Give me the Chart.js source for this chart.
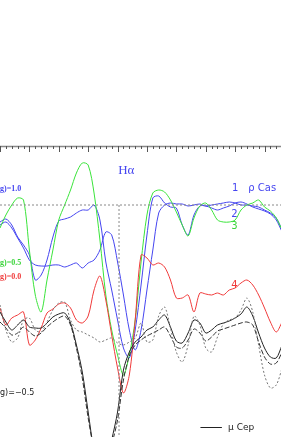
<!DOCTYPE html>
<html>
<head>
<meta charset="utf-8">
<script src="https://cdn.jsdelivr.net/npm/chart.js@4.4.1/dist/chart.umd.min.js"></script>
<style>
  html, body { margin: 0; padding: 0; background: #fff; }
  #wrap { width: 281px; height: 437px; position: relative; }
</style>
</head>
<body>
<div id="wrap"><canvas id="chart"></canvas></div>
<script>
// wavelength grid (arbitrary units, major tick = 1), flux normalised to continuum = 1
var wave = [];
for (var i = 0; i <= 48; i++) wave.push(-4 + i * 0.2);

var blue1 = [0.80, 0.83, 0.77, 0.67, 0.57, 0.45, 0.40, 0.39, 0.39, 0.40, 0.40, 0.38, 0.40, 0.42, 0.37, 0.42,
    0.45, 0.55, 0.73, 0.70, 0.43, 0.10, -0.25, -0.45, -0.25, 0.15, 0.55, 0.92, 1.00, 1.02, 1.01, 1.01,
    0.99, 1.00, 1.01, 0.99, 1.00, 1.01, 1.02, 1.03, 1.02, 1.00, 1.00, 0.99, 0.98, 0.95, 0.92, 0.87, 0.75];
var blue2 = [0.83, 0.86, 0.80, 0.68, 0.60, 0.50, 0.25, 0.30, 0.45, 0.68, 0.84, 0.86, 0.88, 0.92, 0.95, 0.95,
    1.00, 0.85, 0.43, 0.15, -0.15, -0.43, -0.53, -0.25, 0.20, 0.70, 1.07, 1.09, 1.02, 0.98, 0.97, 0.80,
    0.70, 0.90, 0.99, 0.99, 0.97, 0.95, 0.97, 0.99, 1.02, 1.03, 1.01, 0.98, 0.96, 0.94, 0.91, 0.85, 0.73];
var green3 = [0.77, 0.90, 1.00, 1.07, 1.05, 0.55, 0.10, -0.07, 0.25, 0.55, 0.85, 1.00, 1.15, 1.32, 1.42, 1.40,
    1.12, 0.65, 0.10, -0.25, -0.50, -0.70, -0.50, -0.15, 0.43, 0.90, 1.12, 1.15, 1.13, 1.05, 0.93, 0.80,
    0.69, 0.87, 0.99, 1.02, 0.95, 0.85, 0.83, 0.83, 0.85, 0.95, 1.00, 1.02, 1.05, 0.98, 0.94, 0.87, 0.75];
var red4 = [-0.03, -0.20, -0.13, -0.10, -0.07, -0.40, -0.35, -0.23, -0.08, -0.04, 0.01, 0.02, -0.03, -0.15, -0.18, -0.11,
    0.15, 0.29, 0.05, -0.30, -0.63, -0.88, -0.70, -0.15, 0.50, 0.47, 0.40, 0.42, 0.38, 0.25, 0.07, 0.07,
    0.10, -0.07, 0.12, 0.11, 0.10, 0.12, 0.10, 0.15, 0.17, 0.22, 0.25, 0.20, 0.10, -0.03, -0.17, -0.27, -0.17];
var muCep = [-0.07, -0.17, -0.25, -0.20, -0.15, -0.22, -0.23, -0.23, -0.18, -0.12, -0.09, -0.08, -0.18, -0.40, -0.67, -1.07,
    -1.45, -1.60, -1.60, -1.35, -1.07, -0.65, -0.47, -0.37, -0.32, -0.25, -0.22, -0.15, -0.10, -0.22, -0.36, -0.38,
    -0.28, -0.15, -0.18, -0.28, -0.25, -0.20, -0.18, -0.16, -0.13, -0.09, -0.02, -0.11, -0.28, -0.43, -0.52, -0.53, -0.40];
var muCepDash = [-0.17, -0.23, -0.30, -0.28, -0.22, -0.27, -0.31, -0.28, -0.22, -0.17, -0.13, -0.11, -0.20, -0.43, -0.73, -1.13,
    -1.45, -1.65, -1.63, -1.40, -1.15, -0.75, -0.51, -0.40, -0.35, -0.31, -0.28, -0.25, -0.22, -0.31, -0.42, -0.43,
    -0.35, -0.24, -0.28, -0.36, -0.32, -0.26, -0.24, -0.22, -0.20, -0.18, -0.17, -0.20, -0.37, -0.52, -0.59, -0.58, -0.47];
var muCepDot = [0.00, -0.25, -0.37, -0.33, -0.15, -0.13, -0.25, -0.27, -0.17, -0.05, 0.02, 0.03, -0.15, -0.25, -0.27, -0.30,
    -0.33, -0.37, -0.35, -0.33, -0.38, -0.40, -0.37, -0.33, -0.18, -0.37, -0.35, -0.11, -0.02, -0.23, -0.47, -0.57,
    -0.40, -0.11, -0.20, -0.43, -0.47, -0.32, -0.19, -0.15, -0.13, -0.05, 0.07, -0.07, -0.40, -0.70, -0.83, -0.80, -0.63];

var lineCentre = 0.05;
var continuum = 1.0;

function pts(arr) {
    return arr.map(function (v, i) { return { x: wave[i], y: v }; });
}

function series(arr, color, dash) {
    return {
        data: pts(arr),
        borderColor: color,
        borderWidth: 1,
        borderDash: dash || [],
        pointRadius: 0,
        tension: 0.3,
        fill: false
    };
}

// labels drawn at data positions
var notes = [
    { x: 0.02, y: 1.31, text: "H\u03b1", color: "#4545f0", font: "13px 'Liberation Serif'" },
    { x: 3.89, y: 1.14, text: "1", color: "#4545f0", font: "10px 'DejaVu Sans'" },
    { x: 4.45, y: 1.14, text: "\u03c1 Cas", color: "#4545f0", font: "10px 'DejaVu Sans'" },
    { x: 3.87, y: 0.88, text: "2", color: "#4545f0", font: "10px 'DejaVu Sans'" },
    { x: 3.87, y: 0.76, text: "3", color: "#3ad43a", font: "10px 'DejaVu Sans'" },
    { x: 3.87, y: 0.17, text: "4", color: "#f03a3a", font: "10px 'DejaVu Sans'" },
    { x: -4.0, y: 1.14, text: "g)=1.0", color: "#4545f0", font: "bold 8px 'Liberation Serif'" },
    { x: -4.0, y: 0.40, text: "g)=0.5", color: "#3ad43a", font: "bold 8px 'Liberation Serif'" },
    { x: -4.0, y: 0.26, text: "g)=0.0", color: "#f03a3a", font: "bold 8px 'Liberation Serif'" },
    { x: -4.0, y: -0.90, text: "g)=\u22120.5", color: "#222", font: "8px 'DejaVu Sans'" },
    { x: 3.76, y: -1.25, text: "\u03bc Cep", color: "#222", font: "9px 'DejaVu Sans'" }
];

var overlay = {
    id: 'overlay',
    afterDraw: function (chart) {
        var ctx = chart.ctx, xs = chart.scales.x, ys = chart.scales.y, area = chart.chartArea;
        ctx.save();
        // top axis with inward ticks
        ctx.strokeStyle = '#888';
        ctx.lineWidth = 1.5;
        ctx.beginPath();
        ctx.moveTo(area.left, area.top + 0.5);
        ctx.lineTo(area.right, area.top + 0.5);
        ctx.stroke();
        ctx.lineWidth = 1;
        ctx.strokeStyle = '#555';
        for (var k = -20; k <= 28; k++) {
            var px = Math.round(xs.getPixelForValue(k * 0.2)) + 0.5;
            var len = (k % 5 === 0) ? 6 : 3;
            ctx.beginPath();
            ctx.moveTo(px, area.top);
            ctx.lineTo(px, area.top + len);
            ctx.stroke();
        }
        // text
        ctx.textBaseline = 'alphabetic';
        notes.forEach(function (n) {
            ctx.font = n.font;
            ctx.fillStyle = n.color;
            ctx.fillText(n.text, xs.getPixelForValue(n.x), ys.getPixelForValue(n.y));
        });
        // legend sample line
        var ly = Math.round(ys.getPixelForValue(-1.25)) - 2.5;
        ctx.strokeStyle = '#222';
        ctx.beginPath();
        ctx.moveTo(xs.getPixelForValue(2.82), ly);
        ctx.lineTo(xs.getPixelForValue(3.55), ly);
        ctx.stroke();
        ctx.restore();
    }
};

new Chart(document.getElementById('chart'), {
    type: 'line',
    plugins: [overlay],
    data: {
        datasets: [
            { data: [{ x: -4, y: continuum }, { x: 5.6, y: continuum }], borderColor: '#888', borderWidth: 1, borderDash: [2, 2], pointRadius: 0 },
            { data: [{ x: lineCentre, y: continuum }, { x: lineCentre, y: -1.5 }], borderColor: '#888', borderWidth: 1, borderDash: [2, 2], pointRadius: 0 },
            series(muCepDot, '#777', [2, 2]),
            series(muCepDash, '#333', [5, 2]),
            series(muCep, '#222'),
            series(red4, '#f03a3a'),
            series(green3, '#3ae43a'),
            series(blue2, '#4545f0'),
            series(blue1, '#4545f0')
        ]
    },
    options: {
        responsive: true,
        maintainAspectRatio: false,
        animation: false,
        layout: { padding: { top: 146, left: 0, right: 0, bottom: 0 } },
        plugins: { legend: { display: false }, tooltip: { enabled: false } },
        scales: {
            x: { type: 'linear', display: false, min: -4.0, max: 5.561 },
            y: { type: 'linear', display: false, min: -1.32, max: 1.59 }
        }
    }
});
</script>
</body>
</html>
